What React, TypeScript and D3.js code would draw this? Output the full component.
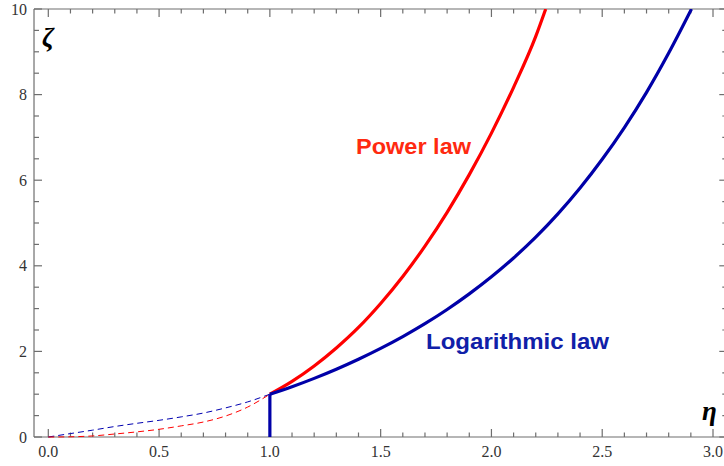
import React from "react";
import * as d3 from "d3";

// Data
const powerEta = [1.0, 1.1, 1.2, 1.3, 1.4, 1.5, 1.6, 1.7, 1.8, 1.9, 2.0, 2.1, 2.2, 2.245];
const powerZeta = [1.0, 1.3, 1.66, 2.08, 2.56, 3.12, 3.75, 4.46, 5.25, 6.13, 7.1, 8.17, 9.36, 10.0];

const logEta = [1.0, 1.1, 1.2, 1.3, 1.4, 1.5, 1.6, 1.7, 1.8, 1.9, 2.0, 2.1, 2.2, 2.3, 2.4, 2.5, 2.6, 2.7, 2.8, 2.903];
const logZeta = [1.0, 1.174, 1.37, 1.584, 1.817, 2.071, 2.347, 2.648, 2.98, 3.344, 3.743, 4.183, 4.669, 5.212, 5.818, 6.489, 7.231, 8.053, 8.971, 10.0];

const dashBlueEta = [0.0, 0.1, 0.2, 0.3, 0.4, 0.5, 0.6, 0.7, 0.8, 0.9, 1.0];
const dashBlueZeta = [0.0, 0.08, 0.16, 0.245, 0.32, 0.39, 0.47, 0.56, 0.68, 0.82, 1.0];
const dashRedEta = [0.0, 0.1, 0.2, 0.3, 0.4, 0.5, 0.6, 0.7, 0.8, 0.9, 1.0];
const dashRedZeta = [0.0, 0.005, 0.025, 0.07, 0.12, 0.18, 0.26, 0.35, 0.49, 0.7, 1.0];

const xTickLabels = ["0.0", "0.5", "1.0", "1.5", "2.0", "2.5", "3.0"];
const yTickLabels = ["0", "2", "4", "6", "8", "10"];

const W = 724;
const H = 466;

export default function App() {
  const x = d3.scaleLinear().domain([0, 3]).range([48.3, 713]);
  const y = d3.scaleLinear().domain([0, 10]).range([437, 9]);
  const xMin = -0.0645;
  const xMax = 3.0645;
  const left = x(xMin);
  const right = x(xMax);
  const top = y(10);
  const bottom = y(0);

  const line = d3
    .line<[number, number]>()
    .x((d) => x(d[0]))
    .y((d) => y(d[1]))
    .curve(d3.curveMonotoneX);

  const zip = (a: number[], b: number[]) => a.map((v, i) => [v, b[i]] as [number, number]);

  const xTicks = d3.range(0, 31).map((i) => i / 10);
  const yTicks = d3.range(0, 21).map((i) => i / 2);
  const axisColor = "#6e6e6e";

  return (
    <svg
      width={W}
      height={H}
      style={{ position: "absolute", left: 0, top: 0, background: "#fff" }}
    >
      <defs>
        <clipPath id="plot">
          <rect x={left} y={top} width={right - left} height={bottom - top + 2} />
        </clipPath>
      </defs>
      {/* Frame */}
      <g stroke={axisColor} strokeWidth={1.2} fill="none">
        <line x1={left} y1={bottom} x2={right} y2={bottom} />
        <line x1={left} y1={top} x2={right} y2={top} />
        <line x1={left} y1={top} x2={left} y2={bottom} />
        <line x1={right} y1={top} x2={right} y2={bottom} />
        {xTicks.map((t, i) => {
          const len = i % 5 === 0 ? 8 : 4.5;
          return (
            <g key={"xt" + i}>
              <line x1={x(t)} x2={x(t)} y1={bottom} y2={bottom - len} />
              <line x1={x(t)} x2={x(t)} y1={top} y2={top + len} />
            </g>
          );
        })}
        {yTicks.map((t, i) => {
          const len = i % 4 === 0 ? 8 : 5;
          return (
            <g key={"yt" + i}>
              <line x1={left} x2={left + len} y1={y(t)} y2={y(t)} />
              <line x1={right} x2={right - len} y1={y(t)} y2={y(t)} />
            </g>
          );
        })}
      </g>
      {/* Tick labels */}
      <g fontFamily="'Liberation Serif', 'DejaVu Serif', serif" fontSize={16} fill="#333">
        {xTickLabels.map((s) => (
          <text key={"xl" + s} x={x(+s)} y={456.5} textAnchor="middle">
            {s}
          </text>
        ))}
        {yTickLabels.map((s) => (
          <text key={"yl" + s} x={27} y={y(+s) + 5.5} textAnchor="end">
            {s}
          </text>
        ))}
      </g>
      {/* Curves */}
      <g clipPath="url(#plot)" fill="none">
        <path d={line(zip(dashBlueEta, dashBlueZeta)) || ""} stroke="#0000b0" strokeWidth={1} strokeDasharray="6,4" />
        <path d={line(zip(dashRedEta, dashRedZeta)) || ""} stroke="#ff0000" strokeWidth={1} strokeDasharray="6,4" />
        <path d={line(zip(powerEta, powerZeta)) || ""} stroke="#ff0000" strokeWidth={3.2} />
        <path d={line(zip(logEta, logZeta)) || ""} stroke="#0000a8" strokeWidth={3.2} />
        <line x1={x(1)} x2={x(1)} y1={y(0)} y2={y(1)} stroke="#0000a8" strokeWidth={3.2} />
      </g>
      {/* Labels */}
      <g fontFamily="'Liberation Sans', Arial, sans-serif" fontWeight="bold" fontSize={22}>
        <text x={356} y={153.5} fill="#ff2a10" textLength={115} lengthAdjust="spacingAndGlyphs">
          Power law
        </text>
        <text x={426} y={348.5} fill="#1020a8" textLength={183} lengthAdjust="spacingAndGlyphs">
          Logarithmic law
        </text>
      </g>
      <g fontFamily="'Liberation Serif', 'DejaVu Serif', serif" fontWeight="bold" fontStyle="italic" fontSize={27} fill="#000">
        <text x={42} y={46}>ζ</text>
        <text x={702} y={420}>η</text>
      </g>
    </svg>
  );
}
